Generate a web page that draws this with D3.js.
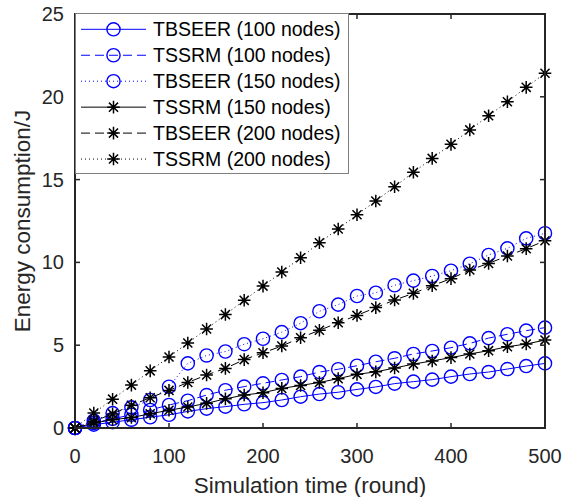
<!DOCTYPE html>
<html>
<head>
<meta charset="utf-8">
<script src="https://cdn.jsdelivr.net/npm/d3@7"></script>
<style>
  html, body { margin: 0; padding: 0; background: #fff; }
  svg { display: block; }
  text { font-family: "Liberation Sans", Arial, Helvetica, sans-serif; fill: #262626; }
</style>
</head>
<body>
<svg id="chart" width="563" height="497"></svg>
<script>
const rounds = [0,20,40,60,80,100,120,140,160,180,200,220,240,260,280,300,320,340,360,380,400,420,440,460,480,500];
const tbseer100 = [0,0.2,0.35,0.5,0.65,0.8,1.0,1.17,1.29,1.43,1.53,1.69,1.89,2.05,2.16,2.33,2.48,2.68,2.8,2.92,3.1,3.26,3.38,3.56,3.74,3.9];
const tssrm100  = [0,0.3,0.55,0.8,1.09,1.39,1.65,1.99,2.28,2.5,2.7,2.9,3.1,3.38,3.55,3.76,4.0,4.21,4.47,4.65,4.85,5.11,5.43,5.66,5.88,6.06];
const tbseer150 = [0,0.45,0.9,1.25,1.69,2.49,3.9,4.38,4.62,5.06,5.39,5.79,6.33,7.05,7.45,7.97,8.17,8.62,8.9,9.18,9.5,9.92,10.45,10.85,11.45,11.76];
const tssrm150  = [0,0.3,0.5,0.63,0.86,1.07,1.27,1.49,1.76,1.99,2.13,2.39,2.57,2.75,2.98,3.24,3.39,3.62,3.86,4.05,4.25,4.47,4.67,4.91,5.07,5.31];
const tbseer200 = [0,0.4,0.85,1.37,1.83,2.27,2.75,3.2,3.6,4.13,4.54,4.95,5.45,5.9,6.36,6.8,7.27,7.73,8.13,8.59,9.02,9.54,9.94,10.39,10.83,11.31];
const tssrm200  = [0,0.9,1.74,2.59,3.45,4.29,5.13,5.98,6.85,7.71,8.57,9.42,10.28,11.19,12.02,12.88,13.71,14.57,15.44,16.28,17.13,18.0,18.86,19.7,20.57,21.42];
const seriesNames = ["TBSEER (100 nodes)","TSSRM (100 nodes)","TBSEER (150 nodes)","TSSRM (150 nodes)","TBSEER (200 nodes)","TSSRM (200 nodes)"];
const xTicks = [0,100,200,300,400,500];
const yTicks = [0,5,10,15,20,25];

const seriesData = [tbseer100, tssrm100, tbseer150, tssrm150, tbseer200, tssrm200];
const styles = [
  {color:"#0000ff", dash:null, marker:"circle"},
  {color:"#0000ff", dash:"9,5", marker:"circle"},
  {color:"#0000ff", dash:"1,3", marker:"circle"},
  {color:"#000000", dash:null, marker:"star"},
  {color:"#000000", dash:"9,5", marker:"star"},
  {color:"#000000", dash:"1,3", marker:"star"}
];

const svg = d3.select("#chart");
const mL = 75, mR = 545, mT = 14, mB = 428;
const x = d3.scaleLinear().domain([0,500]).range([mL,mR]);
const y = d3.scaleLinear().domain([0,25]).range([mB,mT]);
const axisColor = "#262626";

const line = d3.line().x((d,i)=>x(rounds[i])).y(d=>y(d));
const plot = svg.append("g");

function drawMarker(g, type, cx, cy, color) {
  if (type === "circle") {
    g.append("circle").attr("cx",cx).attr("cy",cy).attr("r",6.6)
      .attr("fill","none").attr("stroke",color).attr("stroke-width",1.4);
  } else {
    const r = 6.3, d = r*0.72;
    const p = `M${cx-r},${cy}L${cx+r},${cy}M${cx},${cy-r}L${cx},${cy+r}` +
              `M${cx-d},${cy-d}L${cx+d},${cy+d}M${cx-d},${cy+d}L${cx+d},${cy-d}`;
    g.append("path").attr("d",p).attr("stroke",color).attr("stroke-width",1.5).attr("fill","none");
  }
}

seriesData.forEach((data, k) => {
  const st = styles[k];
  plot.append("path").datum(data).attr("d", line)
    .attr("fill","none").attr("stroke",st.color).attr("stroke-width",1)
    .attr("stroke-dasharray", st.dash);
  const mg = plot.append("g");
  data.forEach((v,i) => drawMarker(mg, st.marker, x(rounds[i]), y(v), st.color));
});

const ax = svg.append("g");
ax.append("rect").attr("x",mL).attr("y",mT).attr("width",mR-mL).attr("height",mB-mT)
  .attr("fill","none").attr("stroke",axisColor).attr("stroke-width",2);

const tl = 5;
xTicks.forEach(t => {
  ax.append("line").attr("x1",x(t)).attr("x2",x(t)).attr("y1",mB).attr("y2",mB-tl).attr("stroke",axisColor).attr("stroke-width",1.5);
  ax.append("line").attr("x1",x(t)).attr("x2",x(t)).attr("y1",mT).attr("y2",mT+tl).attr("stroke",axisColor).attr("stroke-width",1.5);
  ax.append("text").attr("x",x(t)).attr("y",mB+35).attr("text-anchor","middle")
    .style("font-size","20px").text(t);
});
yTicks.forEach(t => {
  ax.append("line").attr("x1",mL).attr("x2",mL+tl).attr("y1",y(t)).attr("y2",y(t)).attr("stroke",axisColor).attr("stroke-width",1.5);
  ax.append("line").attr("x1",mR).attr("x2",mR-tl).attr("y1",y(t)).attr("y2",y(t)).attr("stroke",axisColor).attr("stroke-width",1.5);
  ax.append("text").attr("x",mL-11).attr("y",y(t)+7).attr("text-anchor","end")
    .style("font-size","20px").text(t);
});

svg.append("text").attr("x",(mL+mR)/2).attr("y",493).attr("text-anchor","middle")
  .style("font-size","22.5px").text("Simulation time (round)");
svg.append("text").attr("transform",`translate(30,${(mT+mB)/2}) rotate(-90)`)
  .attr("text-anchor","middle").style("font-size","22.5px").text("Energy consumption/J");

const lg = svg.append("g");
lg.append("rect").attr("x",75.5).attr("y",13.5).attr("width",273).attr("height",160)
  .attr("fill","#fff").attr("stroke","#808080").attr("stroke-width",1);
seriesNames.forEach((name,k) => {
  const st = styles[k];
  const cy = 29.3 + k*25.95;
  lg.append("line").attr("x1",81).attr("x2",146).attr("y1",cy).attr("y2",cy)
    .attr("stroke",st.color).attr("stroke-width",1).attr("stroke-dasharray",st.dash);
  drawMarker(lg, st.marker, 113.5, cy, st.color);
  lg.append("text").attr("x",153).attr("y",cy+7).style("font-size","19.5px").style("fill","#000").text(name);
});
</script>
</body>
</html>
